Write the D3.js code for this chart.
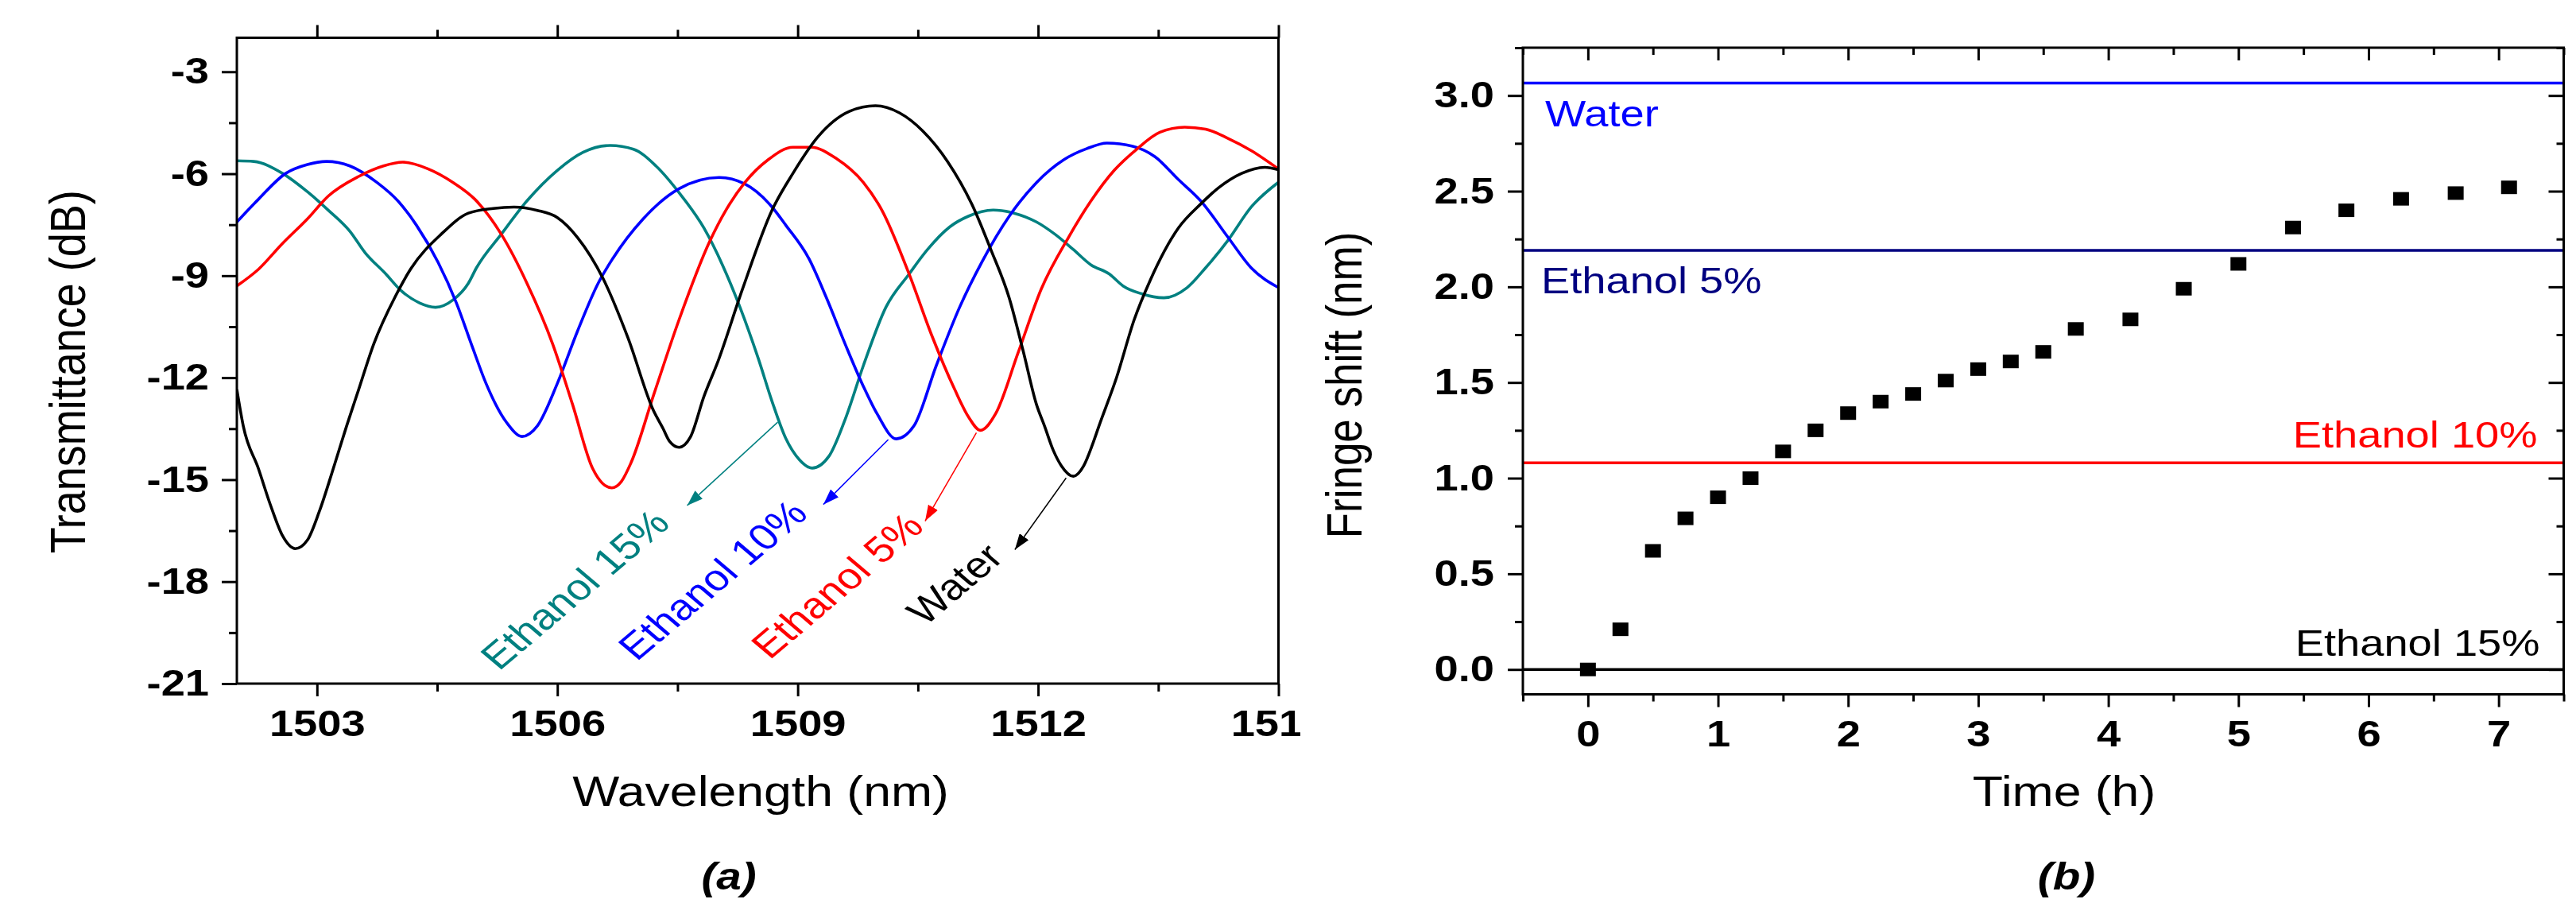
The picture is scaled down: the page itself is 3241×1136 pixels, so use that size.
<!DOCTYPE html>
<html>
<head>
<meta charset="utf-8">
<script src="https://cdn.jsdelivr.net/npm/d3@7"></script>
<style>
  body { margin: 0; background: #fff; }
  svg { display: block; }
  text { font-family: "Liberation Sans", Arial, Helvetica, sans-serif; }
</style>
</head>
<body>
<svg id="fig" width="3241" height="1136"></svg>
<script>
// ---------- Panel (a): transmission spectra ----------
const waterWl = [1502.00,1502.08,1502.27,1502.42,1502.57,1502.73,1502.88,1503.03,1503.22,1503.37,1503.52,1503.71,1503.98,1504.17,1504.55,1504.89,1505.20,1505.46,1505.75,1506.00,1506.25,1506.57,1506.88,1507.20,1507.32,1507.40,1507.52,1507.66,1507.83,1508.00,1508.31,1508.68,1508.94,1509.25,1509.65,1509.97,1510.27,1510.56,1510.87,1511.19,1511.41,1511.64,1511.81,1511.98,1512.08,1512.19,1512.29,1512.44,1512.57,1512.68,1512.76,1512.98,1513.20,1513.40,1513.75,1514.03,1514.26,1514.54,1514.83,1515.00];
const waterDb = [-12.35,-13.42,-14.68,-15.75,-16.65,-17.03,-16.78,-15.93,-14.55,-13.42,-12.35,-11.00,-9.60,-8.80,-7.78,-7.16,-7.02,-6.98,-7.08,-7.29,-7.87,-9.08,-10.82,-12.97,-13.50,-13.87,-14.05,-13.75,-12.55,-11.55,-9.40,-7.07,-5.99,-4.92,-4.16,-4.00,-4.21,-4.74,-5.64,-6.98,-8.23,-9.66,-11.18,-12.79,-13.42,-14.14,-14.59,-14.90,-14.59,-13.96,-13.42,-11.99,-10.29,-9.13,-7.60,-6.89,-6.40,-5.99,-5.81,-5.88];

const eth5Wl = [1502.00,1502.27,1502.57,1502.88,1503.14,1503.52,1503.83,1504.07,1504.39,1504.70,1504.97,1505.30,1505.62,1505.94,1506.19,1506.44,1506.56,1506.68,1506.80,1506.92,1507.20,1507.52,1507.90,1508.11,1508.34,1508.63,1508.94,1509.17,1509.48,1509.82,1510.05,1510.39,1510.67,1510.96,1511.13,1511.28,1511.47,1511.75,1512.04,1512.38,1512.66,1512.95,1513.23,1513.52,1513.83,1514.09,1514.37,1514.66,1515.00];
const eth5Db = [-9.30,-8.81,-8.05,-7.33,-6.66,-6.08,-5.77,-5.66,-5.86,-6.26,-6.75,-7.78,-9.22,-11.00,-12.79,-14.67,-15.10,-15.24,-15.05,-14.50,-12.52,-10.29,-8.00,-7.05,-6.26,-5.59,-5.22,-5.22,-5.55,-6.26,-7.07,-8.95,-10.74,-12.35,-13.15,-13.55,-13.06,-11.27,-9.39,-7.87,-6.80,-5.90,-5.28,-4.78,-4.63,-4.69,-4.96,-5.32,-5.86];

const eth10Wl = [1502.00,1502.27,1502.61,1502.88,1503.12,1503.41,1503.75,1504.01,1504.24,1504.51,1504.74,1504.94,1505.11,1505.37,1505.56,1505.75,1506.00,1506.25,1506.51,1506.69,1507.07,1507.52,1508.02,1508.34,1508.68,1508.85,1509.14,1509.36,1509.59,1509.82,1509.99,1510.23,1510.45,1510.73,1511.02,1511.30,1511.64,1511.98,1512.32,1512.61,1512.86,1513.18,1513.46,1513.75,1514.03,1514.37,1514.66,1515.00];
const eth10Db = [-7.42,-6.75,-5.99,-5.73,-5.64,-5.77,-6.26,-6.80,-7.51,-8.60,-9.80,-11.10,-12.17,-13.33,-13.73,-13.42,-12.17,-10.64,-9.22,-8.50,-7.33,-6.44,-6.11,-6.30,-6.98,-7.51,-8.50,-9.66,-11.00,-12.26,-13.06,-13.80,-13.42,-11.64,-9.93,-8.59,-7.25,-6.26,-5.59,-5.26,-5.10,-5.19,-5.50,-6.17,-6.80,-7.87,-8.77,-9.35];

const eth15Wl = [1502.00,1502.21,1502.57,1502.88,1503.14,1503.41,1503.60,1503.86,1504.05,1504.28,1504.48,1504.70,1504.89,1504.99,1505.30,1505.62,1506.00,1506.32,1506.66,1506.95,1507.23,1507.54,1507.83,1508.06,1508.28,1508.51,1508.68,1508.85,1509.02,1509.18,1509.39,1509.59,1509.82,1510.10,1510.39,1510.62,1510.90,1511.13,1511.44,1511.70,1511.98,1512.21,1512.44,1512.66,1512.89,1513.06,1513.29,1513.57,1513.86,1514.09,1514.37,1514.66,1515.00];
const eth15Db = [-5.62,-5.64,-5.99,-6.53,-7.07,-7.69,-8.32,-8.95,-9.44,-9.80,-9.93,-9.71,-9.22,-8.77,-7.78,-6.80,-5.90,-5.37,-5.17,-5.28,-5.77,-6.62,-7.60,-8.68,-9.93,-11.45,-12.70,-13.78,-14.41,-14.66,-14.31,-13.24,-11.64,-9.93,-8.95,-8.23,-7.56,-7.25,-7.07,-7.16,-7.42,-7.78,-8.23,-8.68,-8.95,-9.30,-9.53,-9.65,-9.35,-8.77,-7.96,-6.98,-6.25];

const spectraNames  = ["Water", "Ethanol 5%", "Ethanol 10%", "Ethanol 15%"];
const spectraColors = ["#000000", "#ff0000", "#0000ff", "#008080"];

// Arrow annotations: tail (near a dip), head, and where the rotated label starts (wavelength, dB)
const arrowTailWl  = [1512.35, 1511.23, 1510.13, 1508.75];
const arrowTailDb  = [-14.95, -13.62, -13.82, -13.31];
const arrowHeadWl  = [1511.71, 1510.59, 1509.32, 1507.62];
const arrowHeadDb  = [-17.06, -16.22, -15.73, -15.76];
const labelWl      = [1510.59, 1508.65, 1506.99, 1505.27];
const labelDb      = [-19.33, -20.32, -20.37, -20.65];

const wlTicks      = [1503, 1506, 1509, 1512, 1515];
const wlMinorTicks = [1504.5, 1507.5, 1510.5, 1513.5];
const dbTicks      = [-21, -18, -15, -12, -9, -6, -3];
const dbMinorTicks = [-19.5, -16.5, -13.5, -10.5, -7.5, -4.5];

// ---------- Panel (b): fringe shift versus time ----------
const timeH      = [0, 0.25, 0.5, 0.75, 1.0, 1.25, 1.5, 1.75, 2.0, 2.25, 2.5, 2.75, 3.0, 3.25, 3.5, 3.75, 4.17, 4.58, 5.0, 5.42, 5.83, 6.25, 6.67, 7.08];
const shiftNm    = [0, 0.21, 0.62, 0.79, 0.90, 1.00, 1.14, 1.25, 1.34, 1.40, 1.44, 1.51, 1.57, 1.61, 1.66, 1.78, 1.83, 1.99, 2.12, 2.31, 2.40, 2.46, 2.49, 2.52];
const levelNames  = ["Water", "Ethanol 5%", "Ethanol 10%", "Ethanol 15%"];
const levelValues = [3.065, 2.19, 1.08, 0];
const levelColors = ["#0000ff", "#000080", "#ff0000", "#000000"];
const timeTicks       = [0, 1, 2, 3, 4, 5, 6, 7];
const timeMinorTicks  = [-0.5, 0.5, 1.5, 2.5, 3.5, 4.5, 5.5, 6.5, 7.5];
const shiftTicks      = [0, 0.5, 1.0, 1.5, 2.0, 2.5, 3.0];
const shiftMinorTicks = [0.25, 0.75, 1.25, 1.75, 2.25, 2.75, 3.25];

// ---------- drawing ----------
const SX = 1.18;            // horizontal stretch applied to all lettering
const svg = d3.select("#fig");
svg.append("rect").attr("width", 3241).attr("height", 1136).attr("fill", "#fff");

function label(g, str, x, y, o = {}) {
  return g.append("text")
    .attr("transform", `translate(${x},${y}) scale(${SX},1) rotate(${o.rot || 0})`)
    .attr("text-anchor", o.anchor || "start")
    .attr("font-size", o.size || 46)
    .attr("font-weight", o.weight || "normal")
    .attr("font-style", o.style || "normal")
    .attr("fill", o.fill || "#000")
    .text(str);
}

function styleAxis(g, labelX) {
  g.select(".domain").remove();
  g.selectAll(".tick line").attr("stroke", "#000").attr("stroke-width", 3);
  g.selectAll(".tick text")
    .attr("fill", "#000")
    .attr("font-size", 46)
    .attr("font-weight", "bold")
    .attr("font-family", '"Liberation Sans", Arial, sans-serif')
    .attr("transform", `scale(${SX},1)`);
  if (labelX !== undefined) g.selectAll(".tick text").attr("x", labelX / SX);
}

// ----- panel (a) -----
const xA = d3.scaleLinear().domain([1502, 1515]).range([298, 1608.5]);
const yA = d3.scaleLinear().domain([-21, -2]).range([860, 47.5]);

const defs = svg.append("defs");
defs.append("clipPath").attr("id", "panelA")
  .append("rect").attr("x", 0).attr("y", 0).attr("width", 1636).attr("height", 1136);
defs.append("clipPath").attr("id", "plotA")
  .append("rect").attr("x", xA(1502)).attr("y", yA(-2))
  .attr("width", xA(1515) - xA(1502)).attr("height", yA(-21) - yA(-2));

spectraColors.forEach((c, i) => {
  defs.append("marker").attr("id", "head" + i)
    .attr("viewBox", "0 0 20 14").attr("refX", 20).attr("refY", 7)
    .attr("markerWidth", 20).attr("markerHeight", 14)
    .attr("markerUnits", "userSpaceOnUse").attr("orient", "auto")
    .append("path").attr("d", "M0,0 L20,7 L0,14 Z").attr("fill", c);
});

const gA = svg.append("g").attr("clip-path", "url(#panelA)");

const spectra = [[waterWl, waterDb], [eth5Wl, eth5Db], [eth10Wl, eth10Db], [eth15Wl, eth15Db]];
const lineA = d3.line().x(d => xA(d[0])).y(d => yA(d[1])).curve(d3.curveMonotoneX);
const curves = gA.append("g").attr("clip-path", "url(#plotA)");
// draw from back to front: teal, blue, red, black
[3, 2, 1, 0].forEach(i => {
  const pts = spectra[i][0].map((w, k) => [w, spectra[i][1][k]]);
  curves.append("path").datum(pts)
    .attr("d", lineA).attr("fill", "none")
    .attr("stroke", spectraColors[i]).attr("stroke-width", 3.6)
    .attr("stroke-linejoin", "round");
});

// axes of panel (a)
gA.append("g").attr("transform", `translate(${xA(1502)},0)`)
  .call(d3.axisLeft(yA).tickValues(dbMinorTicks).tickSize(10).tickFormat(""))
  .call(g => styleAxis(g));
gA.append("g").attr("transform", `translate(${xA(1502)},0)`)
  .call(d3.axisLeft(yA).tickValues(dbTicks).tickSize(19).tickPadding(16).tickFormat(d => String(d)))
  .call(g => styleAxis(g, -35));
gA.append("g").attr("transform", `translate(0,${yA(-21)})`)
  .call(d3.axisBottom(xA).tickValues(wlMinorTicks).tickSize(10).tickFormat(""))
  .call(g => styleAxis(g));
gA.append("g").attr("transform", `translate(0,${yA(-21)})`)
  .call(d3.axisBottom(xA).tickValues(wlTicks).tickSize(16).tickPadding(17).tickFormat(d => String(d)))
  .call(g => styleAxis(g));
gA.append("g").attr("transform", `translate(0,${yA(-2)})`)
  .call(d3.axisTop(xA).tickValues(wlMinorTicks).tickSize(10).tickFormat(""))
  .call(g => styleAxis(g));
gA.append("g").attr("transform", `translate(0,${yA(-2)})`)
  .call(d3.axisTop(xA).tickValues(wlTicks).tickSize(16).tickFormat(""))
  .call(g => styleAxis(g));
gA.append("rect")
  .attr("x", xA(1502)).attr("y", yA(-2))
  .attr("width", xA(1515) - xA(1502)).attr("height", yA(-21) - yA(-2))
  .attr("fill", "none").attr("stroke", "#000").attr("stroke-width", 3);

// arrows and rotated labels
spectraNames.forEach((name, i) => {
  gA.append("line")
    .attr("x1", xA(arrowTailWl[i])).attr("y1", yA(arrowTailDb[i]))
    .attr("x2", xA(arrowHeadWl[i])).attr("y2", yA(arrowHeadDb[i]))
    .attr("stroke", spectraColors[i]).attr("stroke-width", 1.5)
    .attr("marker-end", `url(#head${i})`);
  label(gA, name, xA(labelWl[i]), yA(labelDb[i]), { rot: -45, fill: spectraColors[i], size: 46 });
});

label(gA, "Transmittance (dB)", 107, (yA(-21) + yA(-2)) / 2 + 14, { rot: -90, anchor: "middle", size: 54 });
label(gA, "Wavelength (nm)", 957, 1014, { anchor: "middle", size: 53 });
label(svg, "(a)", 917, 1119, { anchor: "middle", size: 48, weight: "bold", style: "italic" });

// ----- panel (b) -----
const xB = d3.scaleLinear().domain([-0.5, 7.5]).range([1916, 3225.5]);
const yB = d3.scaleLinear().domain([-0.13, 3.25]).range([873.5, 60]);
const gB = svg.append("g");

gB.selectAll("line.level").data(levelValues).join("line").attr("class", "level")
  .attr("x1", xB(-0.5)).attr("x2", xB(7.5))
  .attr("y1", d => yB(d)).attr("y2", d => yB(d))
  .attr("stroke", (d, i) => levelColors[i]).attr("stroke-width", 3.5);

// axes of panel (b)
gB.append("g").attr("transform", `translate(${xB(-0.5)},0)`)
  .call(d3.axisLeft(yB).tickValues(shiftMinorTicks).tickSize(10).tickFormat(""))
  .call(g => styleAxis(g));
gB.append("g").attr("transform", `translate(${xB(-0.5)},0)`)
  .call(d3.axisLeft(yB).tickValues(shiftTicks).tickSize(19).tickPadding(17).tickFormat(d3.format(".1f")))
  .call(g => styleAxis(g, -36));
gB.append("g").attr("transform", `translate(${xB(7.5)},0)`)
  .call(d3.axisRight(yB).tickValues(shiftMinorTicks).tickSize(-9).tickFormat(""))
  .call(g => styleAxis(g));
gB.append("g").attr("transform", `translate(${xB(7.5)},0)`)
  .call(d3.axisRight(yB).tickValues(shiftTicks).tickSize(-19).tickFormat(""))
  .call(g => styleAxis(g));
gB.append("g").attr("transform", `translate(0,${yB(-0.13)})`)
  .call(d3.axisBottom(xB).tickValues(timeMinorTicks).tickSize(9).tickFormat(""))
  .call(g => styleAxis(g));
gB.append("g").attr("transform", `translate(0,${yB(-0.13)})`)
  .call(d3.axisBottom(xB).tickValues(timeTicks).tickSize(16).tickPadding(17).tickFormat(d => String(d)))
  .call(g => styleAxis(g));
gB.append("g").attr("transform", `translate(0,${yB(3.25)})`)
  .call(d3.axisTop(xB).tickValues(timeMinorTicks).tickSize(-9).tickFormat(""))
  .call(g => styleAxis(g));
gB.append("g").attr("transform", `translate(0,${yB(3.25)})`)
  .call(d3.axisTop(xB).tickValues(timeTicks).tickSize(-16).tickFormat(""))
  .call(g => styleAxis(g));
gB.append("rect")
  .attr("x", xB(-0.5)).attr("y", yB(3.25))
  .attr("width", xB(7.5) - xB(-0.5)).attr("height", yB(-0.13) - yB(3.25))
  .attr("fill", "none").attr("stroke", "#000").attr("stroke-width", 3);

// measured points
gB.selectAll("rect.pt").data(timeH).join("rect").attr("class", "pt")
  .attr("x", d => xB(d) - 10).attr("width", 20)
  .attr("y", (d, i) => yB(shiftNm[i]) - 8.5).attr("height", 17)
  .attr("fill", "#000");

// level labels
label(gB, levelNames[0], xB(-0.5) + 28, yB(levelValues[0]) + 54, { fill: levelColors[0] });
label(gB, levelNames[1], xB(-0.5) + 23, yB(levelValues[1]) + 54, { fill: levelColors[1] });
label(gB, levelNames[2], xB(7.5) - 33, yB(levelValues[2]) - 19, { fill: levelColors[2], anchor: "end" });
label(gB, levelNames[3], xB(7.5) - 30, yB(levelValues[3]) - 17, { fill: levelColors[3], anchor: "end" });

label(gB, "Fringe shift (nm)", 1713, 484.5, { rot: -90, anchor: "middle", size: 53 });
label(gB, "Time (h)", 2597, 1014, { anchor: "middle", size: 53 });
label(svg, "(b)", 2600, 1119, { anchor: "middle", size: 48, weight: "bold", style: "italic" });
</script>
</body>
</html>
